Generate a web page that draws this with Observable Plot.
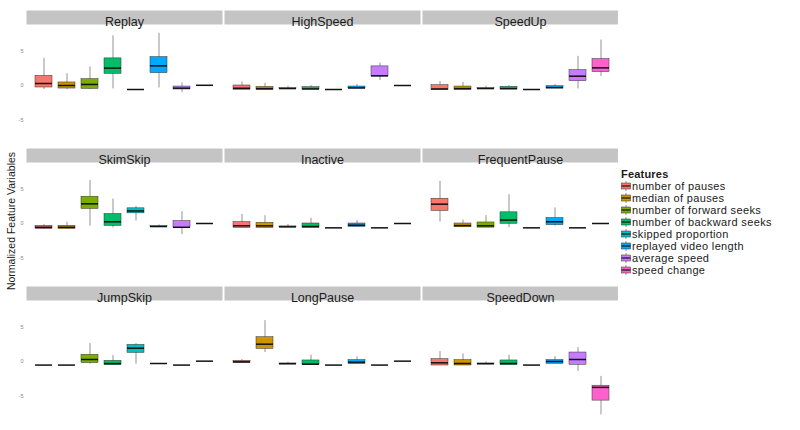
<!DOCTYPE html>
<html><head><meta charset="utf-8">
<script src="https://cdn.jsdelivr.net/npm/d3@7"></script>
<script src="https://cdn.jsdelivr.net/npm/@observablehq/plot@0.6"></script>
<style>
body{margin:0;background:#fff;font-family:"Liberation Sans",Arial,sans-serif}
#wrap{position:relative;width:800px;height:430px;overflow:hidden}
#chart{position:absolute;left:0;top:0}
#ytitle{position:absolute;left:11px;top:221px;transform:translate(-50%,-50%) rotate(-90deg);font-size:10.5px;white-space:nowrap;color:#1a1a1a}
#legend{position:absolute;left:621px;top:168px;font-size:11px;letter-spacing:0.35px;color:#1a1a1a}
#legend .lt{font-weight:bold;line-height:12px;height:12px;letter-spacing:0.2px}
#legend .it{display:flex;align-items:center;line-height:12px;height:12px;white-space:nowrap}
#legend svg{margin-right:1px}
</style></head>
<body><div id="wrap"><div id="chart"></div><div id="ytitle">Normalized Feature Variables</div><div id="legend"></div></div>
<script>
const panels = ["Replay","HighSpeed","SpeedUp","SkimSkip","Inactive","FrequentPause","JumpSkip","LongPause","SpeedDown"];
const features = ["number of pauses","median of pauses","number of forward seeks","number of backward seeks","skipped proportion","replayed video length","average speed","speed change"];
const colors = ["#F8766D","#CD9600","#7CAE00","#00BE67","#00BFC4","#00A9FF","#C77CFF","#FF61CC"];
const yTicks = [-5, 0, 5];

// per panel, per feature (in features order)
const whiskerLow = [
  [-0.58,-0.60,-0.58,-0.49,-0.58,-0.35,-1.02,0.03],
  [-0.63,-0.68,-0.55,-0.58,-0.58,-0.44,0.73,0.00],
  [-0.63,-0.63,-0.55,-0.58,-0.58,-0.44,-0.49,1.31],
  [-0.80,-0.78,-0.39,-0.63,0.35,-0.50,-1.62,0.00],
  [-0.63,-0.63,-0.55,-0.63,-0.63,-0.49,-0.63,0.00],
  [0.20,-0.55,-0.60,-0.60,-0.63,-0.39,-0.63,0.00],
  [-0.52,-0.52,-0.39,-0.55,-0.39,-0.29,-0.52,0.05],
  [-0.23,1.30,-0.40,-0.52,-0.52,-0.38,-0.52,0.05],
  [-0.58,-0.58,-0.40,-0.52,-0.52,-0.33,-1.44,-7.73]
];
const quart1 = [
  [-0.29,-0.44,-0.49,1.69,-0.58,1.79,-0.58,0.03],
  [-0.63,-0.68,-0.50,-0.58,-0.58,-0.44,1.31,0.00],
  [-0.63,-0.63,-0.50,-0.58,-0.58,-0.44,0.63,1.94],
  [-0.78,-0.78,2.11,-0.34,1.47,-0.50,-0.68,0.00],
  [-0.63,-0.63,-0.55,-0.63,-0.63,-0.49,-0.63,0.00],
  [1.82,-0.55,-0.60,-0.04,-0.63,-0.24,-0.63,0.00],
  [-0.52,-0.52,-0.23,-0.52,1.25,-0.29,-0.52,0.05],
  [-0.23,1.83,-0.38,-0.52,-0.52,-0.38,-0.52,0.05],
  [-0.58,-0.58,-0.38,-0.52,-0.52,-0.33,-0.48,-5.67]
];
const medians = [
  [0.29,0.00,0.15,2.52,-0.58,2.85,-0.39,0.03],
  [-0.40,-0.45,-0.44,-0.50,-0.58,-0.35,1.40,0.00],
  [-0.50,-0.45,-0.44,-0.45,-0.58,-0.30,1.35,2.56],
  [-0.55,-0.55,2.85,0.25,1.82,-0.44,-0.55,0.00],
  [-0.34,-0.34,-0.49,-0.44,-0.63,-0.25,-0.63,0.00],
  [2.80,-0.30,-0.34,0.50,-0.63,0.25,-0.63,0.00],
  [-0.52,-0.52,0.29,-0.30,1.93,-0.29,-0.52,0.05],
  [-0.05,2.51,-0.33,-0.38,-0.52,-0.10,-0.52,0.05],
  [-0.19,-0.29,-0.33,-0.29,-0.52,0.00,0.29,-3.75]
];
const quart3 = [
  [1.40,0.44,0.92,3.93,-0.58,4.12,-0.15,0.03],
  [0.00,-0.20,-0.38,-0.25,-0.58,-0.15,2.77,0.00],
  [0.04,-0.15,-0.38,-0.20,-0.58,-0.10,2.23,3.83],
  [-0.34,-0.34,3.88,1.38,2.20,-0.38,0.35,0.00],
  [0.20,0.10,-0.42,0.00,-0.63,0.00,-0.63,0.00],
  [3.59,0.00,0.15,1.62,-0.63,0.79,-0.63,0.00],
  [-0.52,-0.52,0.97,0.10,2.41,-0.29,-0.52,0.05],
  [0.10,3.52,-0.28,0.15,-0.52,0.20,-0.52,0.05],
  [0.34,0.20,-0.28,0.15,-0.52,0.20,1.30,-3.51]
];
const whiskerHigh = [
  [3.93,1.69,2.70,7.20,-0.58,7.57,0.38,0.03],
  [0.52,0.33,-0.10,0.00,-0.58,0.15,3.25,0.00],
  [0.58,0.44,-0.10,0.00,-0.58,0.15,4.22,6.60],
  [-0.15,0.20,6.23,3.53,2.45,-0.20,1.72,0.00],
  [1.32,1.13,-0.15,0.74,-0.63,0.44,-0.63,0.00],
  [6.13,0.50,1.13,4.17,-0.63,2.26,-0.63,0.00],
  [-0.52,-0.52,2.60,0.87,2.60,-0.29,-0.52,0.05],
  [0.29,5.92,-0.10,0.92,-0.52,0.68,-0.52,0.05],
  [1.44,1.11,-0.05,0.92,-0.52,0.72,2.02,-2.16]
];

const panelRows = panels.map((p, i) => ({panel: p, col: i % 3, row: Math.floor(i / 3)}));
const rows = [];
panelRows.forEach((pr, i) => features.forEach((f, j) => rows.push({
  ...pr, feature: f,
  lo: whiskerLow[i][j], q1: quart1[i][j], med: medians[i][j], q3: quart3[i][j], hi: whiskerHigh[i][j]
})));

const W = 618, H = 430, mTop = 23, mBottom = 8, mLeft = 25;
const fyPadInner = 0.119;
const panelH = (H - mTop - mBottom) / (3 - fyPadInner) * (1 - fyPadInner);
const stripH = 14;

const chart = Plot.plot({
  width: W, height: H,
  marginTop: mTop, marginBottom: mBottom, marginLeft: mLeft, marginRight: 0,
  style: {fontFamily: "Liberation Sans, Arial, sans-serif", background: "#fff"},
  x: {type: "band", domain: features, paddingInner: 0.25, paddingOuter: 0.225, axis: null},
  y: {domain: [-8.84, 8.84], axis: null},
  fx: {domain: [0, 1, 2], paddingInner: 0.0126, paddingOuter: 0, axis: null},
  fy: {domain: [0, 1, 2], paddingInner: fyPadInner, paddingOuter: 0, axis: null},
  color: {domain: features, range: colors},
  marks: [
    Plot.frame({fill: "#c4c4c4", stroke: null, insetTop: -stripH, insetBottom: panelH}),
    Plot.text(panelRows, {fx: "col", fy: "row", text: "panel", frameAnchor: "top", dy: -7, fontSize: 12.5, fill: "#1a1a1a"}),
    Plot.axisY({ticks: yTicks, tickSize: 0, tickPadding: 3, fontSize: 5.5, fill: "#888", label: null, tickFormat: d => String(d)}),
    Plot.ruleX(rows, {fx: "col", fy: "row", x: "feature", y1: "lo", y2: "hi", stroke: "#666", strokeWidth: 0.7}),
    Plot.barY(rows, {fx: "col", fy: "row", x: "feature", y1: "q1", y2: "q3", fill: "feature", stroke: "#333", strokeWidth: 0.5}),
    Plot.tickY(rows, {fx: "col", fy: "row", x: "feature", y: "med", stroke: "#111", strokeWidth: 1.5})
  ]
});
document.getElementById("chart").appendChild(chart);

const leg = document.getElementById("legend");
const t = document.createElement("div"); t.className = "lt"; t.textContent = "Features"; leg.appendChild(t);
features.forEach((f, j) => {
  const d = document.createElement("div"); d.className = "it";
  d.innerHTML = `<svg width="10" height="10"><line x1="5" x2="5" y1="0" y2="10" stroke="#666" stroke-width="0.7"/><rect x="0.5" y="2" width="9" height="6" fill="${colors[j]}" stroke="#333" stroke-width="0.5"/><line x1="0.5" x2="9.5" y1="5" y2="5" stroke="#111" stroke-width="1.2"/></svg><span>${f}</span>`;
  leg.appendChild(d);
});
</script></body></html>
